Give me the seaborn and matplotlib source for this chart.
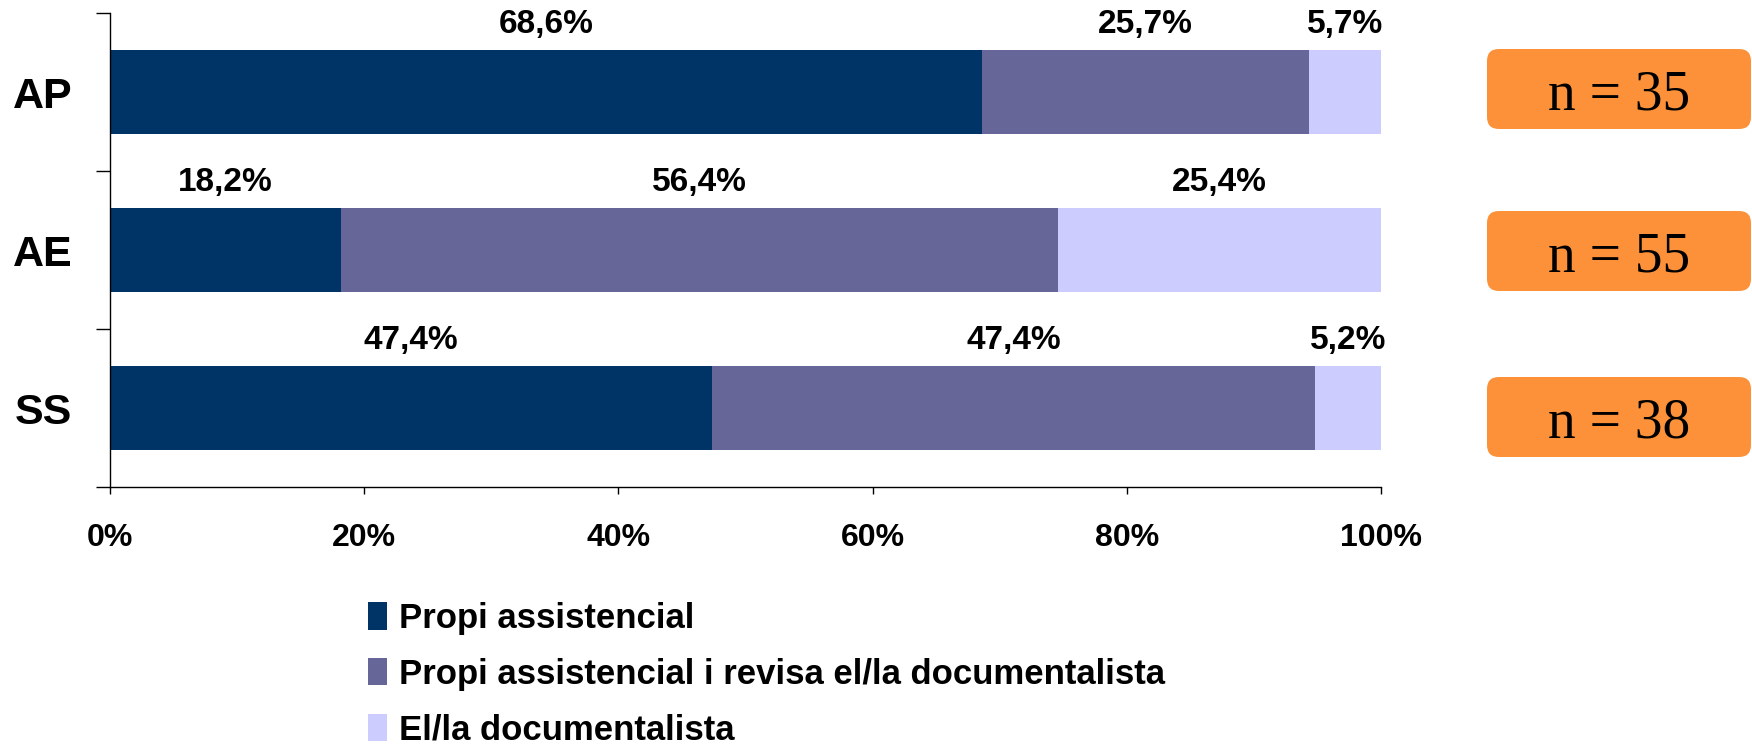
import numpy as np
import pandas as pd
import matplotlib.pyplot as plt
import seaborn as sns
from matplotlib.patches import FancyBboxPatch, Patch
from matplotlib.transforms import IdentityTransform


AREAS = ["AP", "AE", "SS"]
SERIES = [
    "Propi assistencial",
    "Propi assistencial i revisa el/la documentalista",
    "El/la documentalista",
]
PROPI = [68.6, 18.2, 47.4]
PROPI_REVISA = [25.7, 56.4, 47.4]
DOCUMENTALISTA = [5.7, 25.4, 5.2]
N_VALUES = [35, 55, 38]
X_TICKS = [0, 20, 40, 60, 80, 100]

COLORS = ["#003366", "#666699", "#CCCCFF"]
ORANGE = "#FC9139"

# orange "n = .." boxes, pixel layout (top edge from the top of the figure)
BOX_LEFT, BOX_WIDTH, BOX_HEIGHT = 1487, 264, 80
BOX_TOPS = [49, 211, 377]
FIG_W, FIG_H, DPI = 1752, 748, 100


def pct(v: float) -> str:
    return f"{v:.1f}%".replace(".", ",")


def main() -> None:
    sns.set_style("white")
    plt.rcParams["font.family"] = ["Liberation Sans", "DejaVu Sans"]
    plt.rcParams["font.weight"] = "bold"
    plt.rcParams["text.color"] = "black"
    plt.rcParams["xtick.color"] = "black"
    plt.rcParams["ytick.color"] = "black"
    plt.rcParams["xtick.labelcolor"] = "black"
    plt.rcParams["ytick.labelcolor"] = "black"

    df = pd.DataFrame(
        {"area": AREAS, SERIES[0]: PROPI, SERIES[1]: PROPI_REVISA, SERIES[2]: DOCUMENTALISTA}
    )
    cum = df[SERIES].cumsum(axis=1)

    fig = plt.figure(figsize=(FIG_W / DPI, FIG_H / DPI), dpi=DPI)
    ax = fig.add_axes([110 / FIG_W, 1 - 487 / FIG_H, (1381 - 110) / FIG_W, (487 - 13) / FIG_H])

    # stacked bars: draw cumulative totals from the back to the front
    for i in reversed(range(len(SERIES))):
        sns.barplot(
            x=cum[SERIES[i]], y=df["area"], orient="h", color=COLORS[i],
            saturation=1, width=0.53, linewidth=0, ax=ax,
        )

    for i, name in enumerate(SERIES):
        left = cum[name] - df[name]
        for j, v in enumerate(df[name]):
            ax.text(left[j] + v / 2, j - 0.43, pct(v), ha="center", va="center",
                    fontsize=24, fontweight="bold", color="black")

    ax.set_xlim(0, 100)
    ax.set_ylim(2.5, -0.5)
    ax.set_xticks(X_TICKS)
    ax.set_xticklabels([f"{t}%" for t in X_TICKS], fontsize=23, fontweight="bold")
    ax.set_yticks(range(len(AREAS)))
    ax.set_yticklabels(AREAS, fontsize=31, fontweight="bold")
    ax.set_yticks(np.arange(len(AREAS) + 1) - 0.5, minor=True)
    ax.tick_params(axis="y", which="major", length=0, pad=27)
    ax.tick_params(axis="y", which="minor", length=10, width=1, color="black", left=True)
    ax.tick_params(axis="x", which="major", length=5, width=1, color="black",
                   bottom=True, direction="out", pad=21)
    ax.set_xlabel("")
    ax.set_ylabel("")
    for side in ["top", "right"]:
        ax.spines[side].set_visible(False)
    for side in ["left", "bottom"]:
        ax.spines[side].set_color("black")
        ax.spines[side].set_linewidth(1)
    ax.set_facecolor("none")

    handles = [Patch(facecolor=c, edgecolor="none") for c in COLORS]
    fig.legend(
        handles, SERIES, loc="upper left", bbox_to_anchor=(368 / FIG_W, 1 - 602 / FIG_H),
        frameon=False, prop={"weight": "bold", "size": 25},
        handlelength=0.55, handleheight=0.83, handletextpad=0.34,
        labelspacing=0.66, borderpad=0, borderaxespad=0,
    )

    for top, n in zip(BOX_TOPS, N_VALUES):
        y0 = FIG_H - top - BOX_HEIGHT
        box = FancyBboxPatch(
            (BOX_LEFT, y0), BOX_WIDTH, BOX_HEIGHT,
            boxstyle="round,pad=0,rounding_size=12",
            facecolor=ORANGE, edgecolor="none", transform=IdentityTransform(),
        )
        fig.add_artist(box)
        fig.text(BOX_LEFT + BOX_WIDTH / 2, y0 + BOX_HEIGHT / 2 - 6, f"n = {n}",
                 transform=IdentityTransform(), ha="center", va="center",
                 fontsize=40, fontweight="normal",
                 family=["Liberation Serif", "DejaVu Serif"], color="black")

    fig.savefig("out.png", dpi=DPI)


if __name__ == "__main__":
    main()
